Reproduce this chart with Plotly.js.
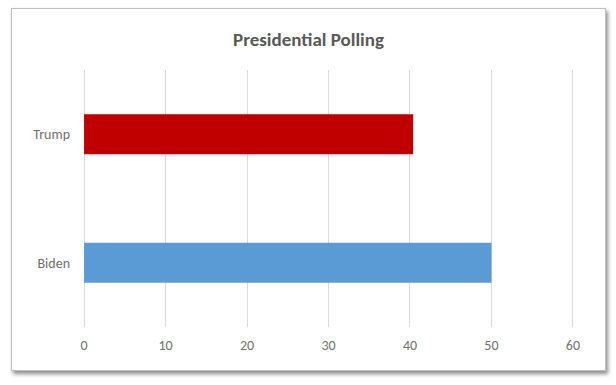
<!DOCTYPE html>
<html>
<head>
<meta charset="utf-8">
<script src="https://cdn.plot.ly/plotly-3.0.1.min.js"></script>
<style>
  html, body { margin: 0; padding: 0; background: #ffffff; width: 616px; height: 385px; overflow: hidden; }
  #box { position: absolute; left: 11px; top: 8px; width: 593px; height: 361px; border: 1px solid #bfbfbf; background: #fff;
         box-shadow: 2px 3px 4px rgba(0,0,0,0.45); }
  #chart { width: 593px; height: 361px; }
</style>
</head>
<body>
<div id="box"><div id="chart"></div></div>
<script>
const candidates = ['Biden', 'Trump'];
const pollValues = [50, 40.4];
const barColors = ['#5B9BD5', '#C00000'];
const xTicks = [0, 10, 20, 30, 40, 50, 60];

const font = 'Calibri, Carlito, Lato, "Open Sans", sans-serif';

Plotly.newPlot('chart', [{
  type: 'bar',
  orientation: 'h',
  y: candidates,
  x: pollValues,
  marker: { color: barColors },
  hoverinfo: 'none'
}], {
  width: 593, height: 361,
  margin: { l: 68, r: 28, t: 61, b: 43 },
  paper_bgcolor: '#ffffff',
  plot_bgcolor: '#ffffff',
  bargap: 0.69,
  showlegend: false,
  title: { text: '<b>Presidential Polling</b>', font: { family: font, size: 19, color: '#595959' },
           x: 0.5, xanchor: 'center', y: 0.915, yanchor: 'middle', yref: 'container' },
  xaxis: {
    range: [-0.5, 60.5], tickvals: xTicks, ticktext: xTicks.map(String),
    showgrid: true, gridcolor: '#d9d9d9', gridwidth: 1, zeroline: false,
    showline: false, ticks: '', ticklabelstandoff: 8,
    tickfont: { family: font, size: 14, color: '#6f6f6f' }
  },
  yaxis: {
    range: [-0.5, 1.5],
    showgrid: false, zeroline: false, showline: false, ticks: '',
    ticklabelstandoff: 9,
    tickfont: { family: font, size: 14, color: '#6f6f6f' }
  }
}, { displayModeBar: false, staticPlot: true });
</script>
</body>
</html>
